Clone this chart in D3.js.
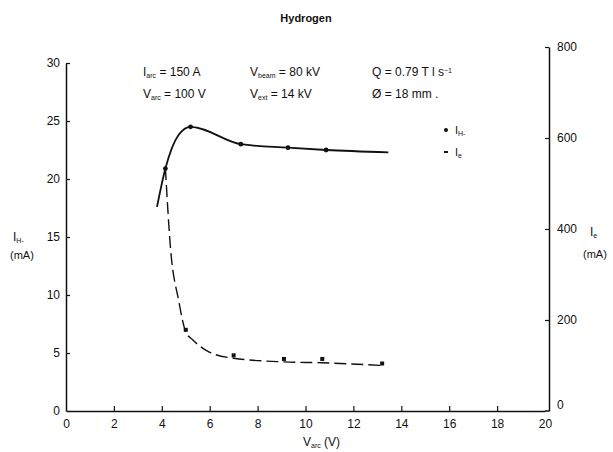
<!DOCTYPE html>
<head>
<meta charset="utf-8">
<title>Hydrogen</title>
<style>
body { margin: 0; background: #fff; }
svg text { font-family: "Liberation Sans", Arial, sans-serif; fill: #111; }
</style>
<script src="https://cdn.jsdelivr.net/npm/d3@7"></script>
</head>
<body>
<svg id="chart" width="613" height="452"></svg>
<script>
// I_H- curve (left axis, mA) and measured points
var ihCurveV = [3.8, 4.15, 4.7, 5.2, 7.3, 9.27, 10.86, 13.46];
var ihCurveI = [17.6, 20.9, 23.8, 24.5, 23.0, 22.7, 22.5, 22.3];
var ihPtV = [4.15, 5.2, 7.3, 9.27, 10.86];
var ihPtI = [20.9, 24.5, 23.0, 22.7, 22.5];

// I_e curve (right axis, mA) and measured points
var ieCurveV = [4.15, 4.36, 4.7, 5.0, 5.3, 5.96, 7.0, 9.1, 10.7, 13.2];
var ieCurveI = [534, 360, 244, 174, 156, 130, 116, 108, 106, 100];
var iePtV = [5.0, 7.0, 9.1, 10.7, 13.2];
var iePtI = [174, 118, 110, 110, 100];

var xTicks = [0, 2, 4, 6, 8, 10, 12, 14, 16, 18, 20];
var yLeftTicks = [0, 5, 10, 15, 20, 25, 30];
var yRightTicks = [0, 200, 400, 600, 800];

var svg = d3.select("#chart");

var x = d3.scaleLinear().domain([0, 20]).range([66, 545]);
var yL = d3.scaleLinear().domain([0, 30]).range([411, 63]);
var yR = d3.scaleLinear().domain([0, 800]).range([411, 47]);

// axes
var bottom = svg.append("g").attr("transform", "translate(0,411)")
  .call(d3.axisBottom(x).tickValues(xTicks).tickSizeInner(-5).tickSizeOuter(0).tickPadding(8));
var left = svg.append("g").attr("transform", "translate(66,0)")
  .call(d3.axisLeft(yL).tickValues(yLeftTicks).tickSizeInner(-4).tickSizeOuter(0).tickPadding(6));
var right = svg.append("g").attr("transform", "translate(549,0)")
  .call(d3.axisRight(yR).tickValues(yRightTicks).tickSizeInner(-4).tickSizeOuter(0).tickPadding(8));

[bottom, left, right].forEach(function(g) {
  g.selectAll("path").attr("stroke", "#111").attr("stroke-width", 1.5);
  g.selectAll("line").attr("stroke", "#111").attr("stroke-width", 1.2);
  g.selectAll("text").style("font-size", "12px").attr("fill", "#111")
    .style("font-family", "'Liberation Sans', Arial, sans-serif");
});
bottom.selectAll(".tick").filter(function(d) { return d === 0 || d === 20; }).select("line").remove();
left.selectAll(".tick").filter(function(d) { return d === 0; }).select("line").remove();
right.selectAll(".tick").filter(function(d) { return d === 0; }).select("line").remove();
// right axis 0 label sits a bit above the corner
right.selectAll(".tick").filter(function(d) { return d === 0; }).select("text").attr("dy", "-0.2em");
// bottom axis meets right axis
svg.append("line").attr("x1", 545).attr("x2", 549).attr("y1", 411).attr("y2", 411)
  .attr("stroke", "#111").attr("stroke-width", 1.5);

// I_H- solid line
var lineL = d3.line().curve(d3.curveMonotoneX)
  .x(function(d) { return x(d[0]); }).y(function(d) { return yL(d[1]); });
svg.append("path")
  .datum(d3.zip(ihCurveV, ihCurveI))
  .attr("d", lineL).attr("fill", "none").attr("stroke", "#111").attr("stroke-width", 1.8);
svg.selectAll(".ihpt").data(d3.zip(ihPtV, ihPtI)).enter().append("circle")
  .attr("cx", function(d) { return x(d[0]); }).attr("cy", function(d) { return yL(d[1]); })
  .attr("r", 2.4).attr("fill", "#111");

// I_e dashed line
var lineR = d3.line().curve(d3.curveMonotoneX)
  .x(function(d) { return x(d[0]); }).y(function(d) { return yR(d[1]); });
svg.append("path")
  .datum(d3.zip(ieCurveV, ieCurveI))
  .attr("d", lineR).attr("fill", "none").attr("stroke", "#111").attr("stroke-width", 1.4)
  .attr("stroke-dasharray", "12,5");
svg.selectAll(".iept").data(d3.zip(iePtV, iePtI)).enter().append("rect")
  .attr("x", function(d) { return x(d[0]) - 2; }).attr("y", function(d) { return yR(d[1]) - 4; })
  .attr("width", 4).attr("height", 4).attr("fill", "#111");

// title and notes
svg.append("text").attr("x", 306).attr("y", 22).attr("text-anchor", "middle")
  .style("font-size", "11px").style("font-weight", "bold").text("Hydrogen");

function sub(t, main, s, rest, sup) {
  t.append("tspan").text(main);
  t.append("tspan").attr("baseline-shift", "-25%").style("font-size", "7px").text(s);
  t.append("tspan").text(rest);
  if (sup) {
    t.append("tspan").attr("baseline-shift", "super").style("font-size", "7px").text(sup);
  }
}
var notes = [
  [143, 76, "I", "arc", " = 150 A"],
  [250, 76, "V", "beam", " = 80 kV"],
  [143, 98, "V", "arc", " = 100 V"],
  [250, 98, "V", "ext", " = 14 kV"]
];
notes.forEach(function(n) {
  var t = svg.append("text").attr("x", n[0]).attr("y", n[1]).style("font-size", "12px");
  sub(t, n[2], n[3], n[4]);
});
var q = svg.append("text").attr("x", 372).attr("y", 76).style("font-size", "12px");
q.append("tspan").text("Q = 0.79 T l s");
q.append("tspan").attr("baseline-shift", "super").style("font-size", "7px").text("−1");
svg.append("text").attr("x", 372).attr("y", 98).style("font-size", "12px").text("Ø = 18 mm .");

// legend
svg.append("circle").attr("cx", 446).attr("cy", 130).attr("r", 2).attr("fill", "#111");
var lg1 = svg.append("text").attr("x", 455).attr("y", 134).style("font-size", "11px");
sub(lg1, "I", "H-", "");
svg.append("rect").attr("x", 444).attr("y", 151).attr("width", 4).attr("height", 2).attr("fill", "#111");
var lg2 = svg.append("text").attr("x", 455).attr("y", 156).style("font-size", "11px");
sub(lg2, "I", "e", "");

// axis titles
var tl = svg.append("text").attr("x", 13).attr("y", 241).style("font-size", "12px");
sub(tl, "I", "H-", "");
svg.append("text").attr("x", 10).attr("y", 259).style("font-size", "11px").text("(mA)");
var tr = svg.append("text").attr("x", 590).attr("y", 236).style("font-size", "12px");
sub(tr, "I", "e", "");
svg.append("text").attr("x", 583).attr("y", 258).style("font-size", "11px").text("(mA)");
var tx = svg.append("text").attr("x", 303).attr("y", 446).style("font-size", "12px");
sub(tx, "V", "arc", " (V)");
</script>
</body>
